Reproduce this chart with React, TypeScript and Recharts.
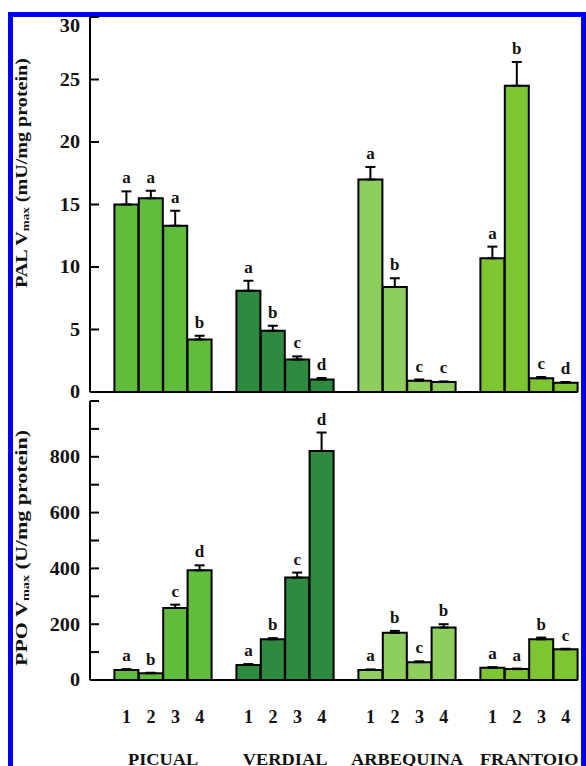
import React from 'react';
import { BarChart, Bar, XAxis, YAxis, ErrorBar, LabelList, Cell } from 'recharts';

const cultivars = ['PICUAL', 'VERDIAL', 'ARBEQUINA', 'FRANTOIO'];
const stages = ['1', '2', '3', '4'];
const cultivarColors = ['#5fbd3b', '#2d8a3f', '#8dce5e', '#7dc632'];

const palValues = [15.0, 15.5, 13.3, 4.2, 8.1, 4.9, 2.6, 1.0, 17.0, 8.4, 0.9, 0.8, 10.7, 24.5, 1.1, 0.75];
const palErrors = [1.05, 0.6, 1.2, 0.3, 0.8, 0.4, 0.25, 0.12, 1.0, 0.7, 0.1, 0.05, 0.93, 1.9, 0.1, 0.05];
const palLetters = ['a', 'a', 'a', 'b', 'a', 'b', 'c', 'd', 'a', 'b', 'c', 'c', 'a', 'b', 'c', 'd'];

const ppoValues = [36, 24, 258, 393, 54, 146, 367, 821, 36, 169, 64, 188, 44, 39, 146, 110];
const ppoErrors = [3, 2, 12, 18, 3, 4, 18, 66, 2, 7, 3, 12, 2, 2, 6, 2];
const ppoLetters = ['a', 'b', 'c', 'd', 'a', 'b', 'c', 'd', 'a', 'b', 'c', 'b', 'a', 'a', 'b', 'c'];

const palTicks = [0, 5, 10, 15, 20, 25, 30];
const palLabeledTicks = [0, 5, 10, 15, 20, 25, 30];
const ppoTicks = [0, 100, 200, 300, 400, 500, 600, 700, 800, 900, 1000];
const ppoLabeledTicks = [0, 200, 400, 600, 800];

const FONT = '"Liberation Serif", "Times New Roman", serif';

type Row = {
  id: string;
  cultivar: number;
  stage: number;
  value: number | null;
  err?: number[];
  errVal: number;
  letter: string;
};

function buildData(values: number[], errors: number[], letters: string[]): Row[] {
  const rows: Row[] = [];
  cultivars.forEach((c, ci) => {
    rows.push({ id: `gap-${ci}`, cultivar: ci, stage: -1, value: null, errVal: 0, letter: '' });
    stages.forEach((s, si) => {
      const k = ci * 4 + si;
      rows.push({
        id: `${c}-${s}`,
        cultivar: ci,
        stage: si,
        value: values[k],
        err: [0, errors[k]],
        errVal: errors[k],
        letter: letters[k],
      });
    });
  });
  return rows;
}

const palData = buildData(palValues, palErrors, palLetters);
const ppoData = buildData(ppoValues, ppoErrors, ppoLetters);

const makeYTick = (labeled: number[]) => (props: any) => {
  const { x, y, payload } = props;
  const v = payload.value;
  const show = labeled.includes(v);
  const shift = v === 30 ? 9 : 0;
  return (
    <g>
      <line x1={x} x2={x + 9} y1={y} y2={y} stroke="#000" strokeWidth={2} />
      {show && (
        <text
          x={x - 10}
          y={y + shift}
          dy="0.36em"
          textAnchor="end"
          fontFamily={FONT}
          fontWeight="bold"
          fontSize={18}
          fill="#111"
          transform={`translate(${x - 10} 0) scale(1.12 1) translate(${-(x - 10)} 0)`}
        >
          {v}
        </text>
      )}
    </g>
  );
};

const rowById = (data: Row[], id: string) => data.find((r) => r.id === id);

const StageTick = (props: any) => {
  const { x, y, payload } = props;
  const entry = rowById(ppoData, payload.value);
  if (!entry || entry.stage < 0) return null;
  const half = typeof payload.offset === 'number' && payload.offset > 0 ? payload.offset : 12.2;
  const gx = x + half;
  return (
    <g>
      <text x={x} y={y + 43} textAnchor="middle" fontFamily={FONT} fontWeight="bold" fontSize={18} fill="#111">
        {stages[entry.stage]}
      </text>
      {entry.stage === 1 && (
        <text
          x={gx}
          y={y + 85}
          textAnchor="middle"
          fontFamily={FONT}
          fontWeight="bold"
          fontSize={17}
          fill="#111"
          transform={`translate(${gx} 0) scale(1.08 1) translate(${-gx} 0)`}
        >
          {cultivars[entry.cultivar]}
        </text>
      )}
    </g>
  );
};

const makeLetter = (data: Row[]) => {
  const bars = data.filter((r) => r.value != null);
  return (props: any) => {
    const { x, y, width, height, index, value } = props;
    let entry = bars[index];
    if (!entry || entry.letter !== value) {
      entry = bars.find((r, i) => i === index) || entry;
    }
    if (!entry || !entry.letter || entry.value == null) return null;
    const pxPerUnit = Math.abs(height) / entry.value;
    const errTop = y - entry.errVal * pxPerUnit;
    return (
      <text x={x + width / 2} y={errTop - 8} textAnchor="middle" fontFamily={FONT} fontWeight="bold" fontSize={17} fill="#111">
        {entry.letter}
      </text>
    );
  };
};

const makeTitle = (main: string, rest: string, cx: number, cy: number, len: number) => () => (
  <text
    x={cx}
    y={cy}
    transform={`rotate(-90 ${cx} ${cy})`}
    textAnchor="middle"
    dominantBaseline="central"
    fontFamily={FONT}
    fontWeight="bold"
    fontSize={17}
    fill="#111"
    textLength={len}
    lengthAdjust="spacingAndGlyphs"
  >
    <tspan>{main}</tspan>
    <tspan fontSize={11} dy={4}>max</tspan>
    <tspan dy={-4}>{rest}</tspan>
  </text>
);

function Panel(props: {
  data: Row[];
  width: number;
  height: number;
  margin: any;
  domain: number[];
  ticks: number[];
  labeled: number[];
  xHeight: number;
  xTick: any;
  title: any;
}) {
  const { data, width, height, margin, domain, ticks, labeled, xHeight, xTick, title } = props;
  return (
    <BarChart width={width} height={height} data={data} margin={margin} barCategoryGap={0} barGap={0}>
      <XAxis
        dataKey="id"
        interval={0}
        height={xHeight}
        tick={xTick}
        tickLine={false}
        tickSize={0}
        tickMargin={0}
        axisLine={{ stroke: '#000', strokeWidth: 2 }}
      />
      <XAxis
        xAxisId="top"
        orientation="top"
        dataKey="id"
        height={0}
        tick={false}
        tickLine={false}
        axisLine={{ stroke: '#000', strokeWidth: 2 }}
      />
      <YAxis
        type="number"
        domain={domain}
        ticks={ticks}
        interval={0}
        width={90}
        tickLine={false}
        tickSize={0}
        tickMargin={0}
        tick={makeYTick(labeled)}
        axisLine={{ stroke: '#000', strokeWidth: 2 }}
        allowDataOverflow
        label={{ content: title }}
      />
      <YAxis
        yAxisId="r"
        orientation="right"
        type="number"
        domain={[0, 1]}
        width={0}
        tick={false}
        tickLine={false}
        axisLine={{ stroke: '#000', strokeWidth: 2 }}
      />
      <Bar dataKey="value" stroke="#000" strokeWidth={2} isAnimationActive={false}>
        {data.map((r) => (
          <Cell key={r.id} fill={r.stage < 0 ? 'none' : cultivarColors[r.cultivar]} />
        ))}
        <ErrorBar dataKey="err" width={5} stroke="#000" strokeWidth={2} direction="y" />
        <LabelList dataKey="letter" content={makeLetter(data)} />
      </Bar>
    </BarChart>
  );
}

export default function App() {
  return (
    <div style={{ position: 'absolute', left: 0, top: 0, width: 586, height: 766, overflow: 'hidden', background: '#fff' }}>
      <div
        style={{
          position: 'absolute',
          left: 8,
          top: 12,
          width: 578,
          height: 820,
          border: '5px solid #0000f5',
          boxSizing: 'border-box',
        }}
      />
      <div style={{ position: 'absolute', left: 0, top: 0 }}>
        <Panel
          data={palData}
          width={586}
          height={402}
          margin={{ top: 17, right: 8, left: 0, bottom: 2 }}
          domain={[0, 30]}
          ticks={palTicks}
          labeled={palLabeledTicks}
          xHeight={8}
          xTick={false}
          title={makeTitle('PAL V', ' (mU/mg protein)', 21, 173, 230)}
        />
      </div>
      <div style={{ position: 'absolute', left: 0, top: 390 }}>
        <Panel
          data={ppoData}
          width={586}
          height={376}
          margin={{ top: 11, right: 8, left: 0, bottom: 0 }}
          domain={[0, 1000]}
          ticks={ppoTicks}
          labeled={ppoLabeledTicks}
          xHeight={86}
          xTick={StageTick}
          title={makeTitle('PPO V', ' (U/mg protein)', 21, 158, 236)}
        />
      </div>
    </div>
  );
}
